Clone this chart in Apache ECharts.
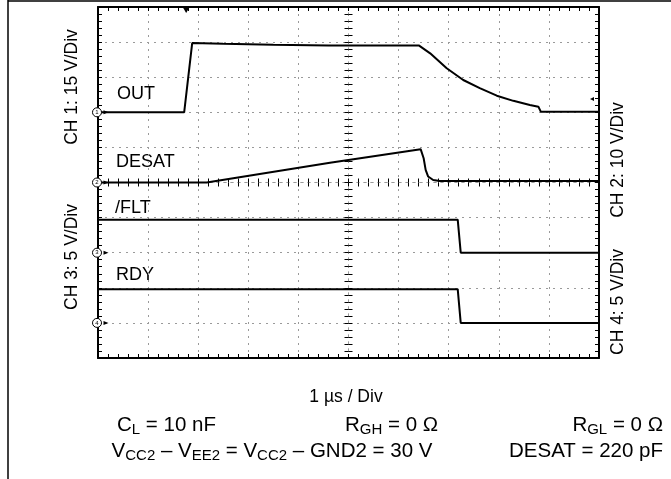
<!DOCTYPE html>
<html>
<head>
<meta charset="utf-8">
<script src="https://cdn.jsdelivr.net/npm/echarts@6/dist/echarts.min.js"></script>
<style>
  html, body { margin: 0; padding: 0; background: #fff; }
  #chart { width: 671px; height: 479px; }
</style>
</head>
<body>
<div id="chart"></div>
<script>
  // time in µs (1 µs / Div), values in volts of each channel
  const outTime = [0, 1.72, 1.88, 2.5, 3.5, 4.6, 6.41, 6.63, 6.96, 7.29, 7.62, 7.96, 8.29, 8.62, 8.79, 8.84, 10];
  const outVolt = [0, 0, 29.6, 29.3, 28.9, 28.5, 28.5, 25.2, 18.8, 13.8, 10.3, 7.1, 4.9, 3.1, 2.4, 0.2, 0.2];
  const desatTime = [0, 2.17, 4.63, 6.44, 6.50, 6.54, 6.59, 6.69, 6.82, 10];
  const desatVolt = [0, 0, 5.6, 9.5, 6.9, 3.6, 1.7, 0.7, 0.4, 0.4];
  const fltTime = [0, 7.18, 7.24, 10];
  const fltVolt = [4.7, 4.7, 0, 0];
  const rdyTime = [0, 7.18, 7.24, 10];
  const rdyVolt = [4.8, 4.8, 0, 0];

  const chNames = ['OUT', 'DESAT', '/FLT', 'RDY'];
  const chTitles = ['CH 1: 15 V/Div', 'CH 2: 10 V/Div', 'CH 3: 5 V/Div', 'CH 4: 5 V/Div'];
  const chVoltsPerDiv = [15, 10, 5, 5];
  const chGroundDiv = [7, 5, 3, 1]; // ground marker, divisions above bottom
  const divCount = 10;
  const timeAxisMax = 10; // µs
  const triggerTime = 1.76;
  const triggerLevel = 5.7; // V on CH 1

  const FONT = 'Liberation Sans, Arial, sans-serif';
  const chart = echarts.init(document.getElementById('chart'));

  const dotted = { color: '#9a9a9a', width: 1, type: [2, 5] };
  const edgeTick = { show: true, inside: true, length: 4, lineStyle: { color: '#000', width: 1 } };
  const edgeMinor = { show: true, splitNumber: 5, length: 4, lineStyle: { color: '#000', width: 1 } };

  function chAxis(i, extra) {
    return Object.assign({
      type: 'value',
      min: -chGroundDiv[i] * chVoltsPerDiv[i],
      max: (divCount - chGroundDiv[i]) * chVoltsPerDiv[i],
      interval: chVoltsPerDiv[i],
      axisLabel: { show: false },
      splitLine: { show: false }
    }, extra);
  }

  // the centre cross of the scope screen, ticks on both sides
  function centerAxis(inside, onZeroIdx, pos) {
    return {
      type: 'value', min: -5, max: 5, interval: 1, position: pos,
      axisLine: { show: true, onZero: true, onZeroAxisIndex: onZeroIdx, lineStyle: dotted },
      axisTick: { show: true, inside: inside, length: 4, lineStyle: { color: '#000', width: 1 } },
      minorTick: { show: true, splitNumber: 5, length: 4, lineStyle: { color: '#000', width: 1 } },
      axisLabel: { show: false },
      splitLine: { show: false }
    };
  }

  const border = { show: true, onZero: false, lineStyle: { color: '#000', width: 2 } };

  const traces = [
    [outTime, outVolt], [desatTime, desatVolt], [fltTime, fltVolt], [rdyTime, rdyVolt]
  ];

  const series = traces.map(function (tr, i) {
    const marks = [
      { coord: [0, 0], symbolOffset: [-1, 0] },
      { coord: [0, 0], symbol: 'triangle', symbolRotate: -90, symbolSize: [4, 5], symbolOffset: [8, 0],
        itemStyle: { color: '#000', borderWidth: 0 }, label: { show: false } }
    ];
    if (i === 0) {
      marks.push({ coord: [triggerTime, chAxis(0).max], symbol: 'triangle', symbolRotate: 180,
        symbolSize: [7, 6], symbolOffset: [0, 3], itemStyle: { color: '#000', borderWidth: 0 }, label: { show: false } });
      marks.push({ coord: [timeAxisMax, triggerLevel], symbol: 'triangle', symbolRotate: 90,
        symbolSize: [4, 4], symbolOffset: [-7, 0], itemStyle: { color: '#000', borderWidth: 0 }, label: { show: false } });
    }
    return {
      name: chNames[i],
      type: 'line',
      xAxisIndex: 0,
      yAxisIndex: i,
      showSymbol: false,
      lineStyle: { color: '#000', width: 2 },
      data: tr[0].map(function (t, k) { return [t, tr[1][k]]; }),
      markPoint: {
        symbol: 'circle',
        symbolSize: 9,
        itemStyle: { color: '#fff', borderColor: '#000', borderWidth: 1 },
        label: { show: true, formatter: String(i + 1), fontSize: 6, color: '#000', fontFamily: FONT },
        data: marks
      }
    };
  });

  function sub(parts) {
    // parts: [text, isSub] pairs -> rich string
    return parts.map(function (p) { return '{' + (p[1] ? 's' : 'm') + '|' + p[0] + '}'; }).join('');
  }
  const rich = {
    m: { fontSize: 20.5, fontFamily: FONT, color: '#000' },
    s: { fontSize: 15, fontFamily: FONT, color: '#000', padding: [10, 0, 0, 0] }
  };

  function txt(x, y, text, size, align, rot) {
    return {
      type: 'text', x: x, y: y, rotation: rot || 0,
      style: { text: text, fontSize: size, fontFamily: FONT, fill: '#000', align: align || 'left', verticalAlign: 'middle' }
    };
  }
  function richTxt(x, y, text, align) {
    return {
      type: 'text', x: x, y: y,
      style: { text: text, rich: rich, fontSize: 20.5, fontFamily: FONT, fill: '#000', align: align, verticalAlign: 'middle' }
    };
  }

  chart.setOption({
    animation: false,
    backgroundColor: '#fff',
    grid: { left: 98, right: 72, top: 7, bottom: 121 },
    xAxis: [
      { type: 'value', min: 0, max: timeAxisMax, interval: 1, position: 'bottom',
        axisLine: border, axisTick: edgeTick, minorTick: edgeMinor, axisLabel: { show: false },
        splitLine: { show: true, lineStyle: dotted } },
      { type: 'value', min: 0, max: timeAxisMax, interval: 1, position: 'top',
        axisLine: border, axisTick: edgeTick, minorTick: edgeMinor, axisLabel: { show: false },
        splitLine: { show: false } },
      centerAxis(false, 4, 'bottom'),
      centerAxis(true, 4, 'bottom')
    ],
    yAxis: [
      chAxis(0, { position: 'left', axisLine: border, axisTick: edgeTick, minorTick: edgeMinor,
        splitLine: { show: true, lineStyle: dotted } }),
      chAxis(1, { position: 'right', axisLine: border, axisTick: edgeTick, minorTick: edgeMinor }),
      chAxis(2, { show: false }),
      chAxis(3, { show: false }),
      centerAxis(false, 2, 'left'),
      centerAxis(true, 2, 'left')
    ],
    series: series,
    graphic: [
      { type: 'line', shape: { x1: 8, y1: 0, x2: 8, y2: 479 }, style: { stroke: '#000', lineWidth: 1.5 } },
      { type: 'line', shape: { x1: 8, y1: 1, x2: 671, y2: 1 }, style: { stroke: '#000', lineWidth: 1.5 } },
      txt(117, 94, chNames[0], 18),
      txt(116, 162, chNames[1], 18),
      txt(115, 208, chNames[2], 18),
      txt(116, 275, chNames[3], 18),
      txt(72, 87, chTitles[0], 17.5, 'center', Math.PI / 2),
      txt(618, 160, chTitles[1], 17.5, 'center', Math.PI / 2),
      txt(72, 257, chTitles[2], 17.5, 'center', Math.PI / 2),
      txt(618, 302, chTitles[3], 17.5, 'center', Math.PI / 2),
      txt(346, 397, '1 µs / Div', 17.5, 'center'),
      richTxt(117, 425, sub([['C'], ['L', 1], [' = 10 nF']]), 'left'),
      richTxt(345, 425, sub([['R'], ['GH', 1], [' = 0 Ω']]), 'left'),
      richTxt(663, 425, sub([['R'], ['GL', 1], [' = 0 Ω']]), 'right'),
      richTxt(272, 451, sub([['V'], ['CC2', 1], [' – V'], ['EE2', 1], [' = V'], ['CC2', 1], [' – GND2 = 30 V']]), 'center'),
      richTxt(663, 451, sub([['DESAT = 220 pF']]), 'right')
    ]
  });
</script>
</body>
</html>
